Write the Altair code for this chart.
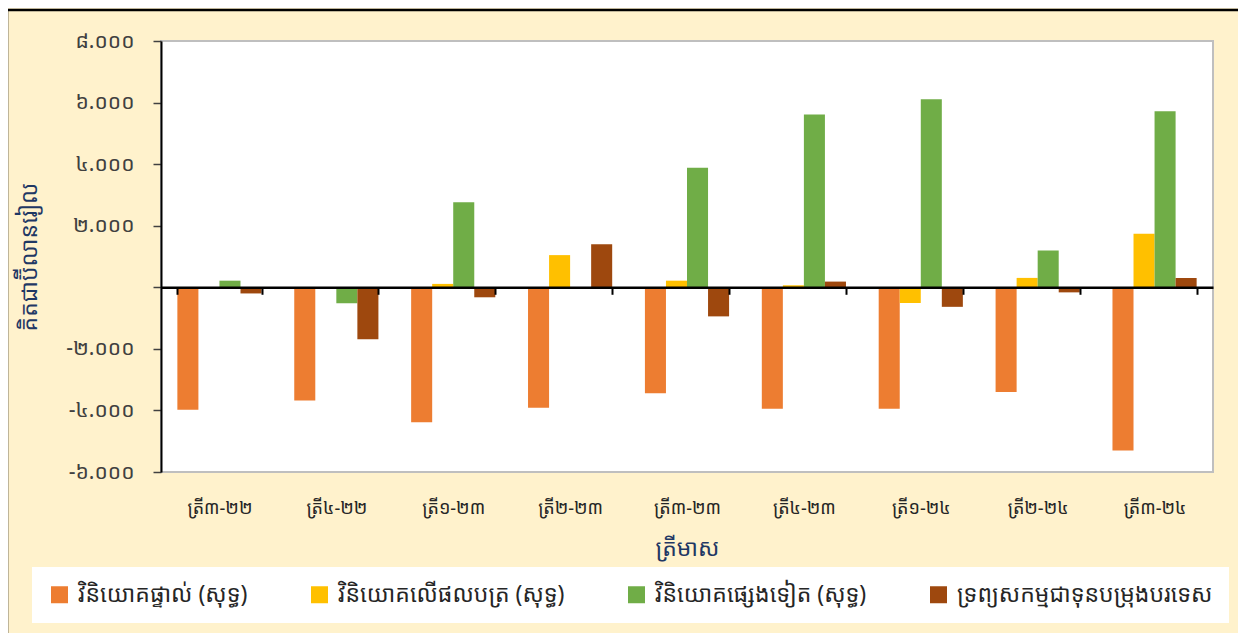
import altair as alt
import pandas as pd

quarters = ["ត្រី៣-២២", "ត្រី៤-២២", "ត្រី១-២៣", "ត្រី២-២៣", "ត្រី៣-២៣",
            "ត្រី៤-២៣", "ត្រី១-២៤", "ត្រី២-២៤", "ត្រី៣-២៤"]
series = ["វិនិយោគផ្ទាល់ (សុទ្ធ)", "វិនិយោគលើផលបត្រ (សុទ្ធ)",
          "វិនិយោគផ្សេងទៀត (សុទ្ធ)", "ទ្រព្យសកម្មជាទុនបម្រុងបរទេស"]
colors = ["#ED7D31", "#FFC000", "#70AD47", "#9E480E"]

direct_inv = [-3980, -3675, -4380, -3915, -3440, -3945, -3945, -3405, -5305]
portfolio_inv = [0, 0, 110, 1045, 215, 65, -510, 305, 1740]
other_inv = [215, -520, 2760, 0, 3880, 5610, 6105, 1195, 5715]
reserve_assets = [-200, -1690, -325, 1400, -945, 185, -635, -165, 305]

y_ticks = [-6000, -4000, -2000, 0, 2000, 4000, 6000, 8000]
y_tick_labels = ["-៦.០០០", "-៤.០០០", "-២.០០០", "", "២.០០០", "៤.០០០", "៦.០០០", "៨.០០០"]

y_title = "គិតជាប៊ីលានរៀល"
x_title = "ត្រីមាស"

rows = []
for s, vals in zip(series, [direct_inv, portfolio_inv, other_inv, reserve_assets]):
    for q, v in zip(quarters, vals):
        rows.append({"quarter": q, "series": s, "value": v})
df = pd.DataFrame(rows)

W, H = 1052, 431
Y_MIN, Y_MAX = -6000, 8000
zero_offset = -H * (0 - Y_MIN) / (Y_MAX - Y_MIN)

label_expr = " : ".join(
    f"datum.value == {v} ? '{l}'" for v, l in zip(y_ticks, y_tick_labels)
) + " : ''"

FONT = "Noto Sans Khmer, Khmer OS, Noto Sans, DejaVu Sans, sans-serif"

bars = alt.Chart(df).mark_bar().encode(
    x=alt.X(
        "quarter:N", sort=quarters,
        scale=alt.Scale(paddingInner=0.28, paddingOuter=0.14),
        axis=alt.Axis(
            orient="bottom", offset=zero_offset, grid=False,
            domain=True, domainColor="black", domainWidth=2.5,
            ticks=True, tickBand="extent", tickSize=7, tickWidth=2, tickColor="black",
            labelAngle=0, labelFontSize=18, labelColor="#262626", labelFont=FONT,
            labelPadding=-zero_offset + 20,
            title=x_title, titleColor="#1F3864", titleFontSize=23,
            titleFontWeight="normal", titleFont=FONT,
            titleY=261, titleBaseline="middle", zindex=1,
        ),
    ),
    xOffset=alt.XOffset("series:N", sort=series,
                        scale=alt.Scale(paddingInner=0, paddingOuter=0)),
    y=alt.Y(
        "value:Q",
        scale=alt.Scale(domain=[Y_MIN, Y_MAX], nice=False, zero=False),
        axis=alt.Axis(
            values=y_ticks, labelExpr=label_expr, grid=False,
            domain=True, domainColor="black", domainWidth=2,
            ticks=True, tickSize=8, tickWidth=1.5, tickColor="#404040",
            labelFontSize=21, labelColor="#404040", labelFont=FONT, labelPadding=19,
            title=y_title, titleColor="#1F3864", titleFontSize=23,
            titleFontWeight="normal", titleFont=FONT,
            titleX=-132, titleY=H / 2, titleAngle=270,
            titleAlign="center", titleBaseline="middle", zindex=1,
        ),
    ),
    color=alt.Color(
        "series:N", sort=series,
        scale=alt.Scale(domain=series, range=colors),
        legend=alt.Legend(
            orient="none", legendX=-129, legendY=526, direction="horizontal",
            title=None, symbolType="square", symbolSize=289, symbolStrokeWidth=0,
            labelFontSize=23, labelColor="#262626", labelFont=FONT, labelLimit=0,
            labelOffset=7, fillColor="white", padding=16, columnPadding=60,
        ),
    ),
)

frame = alt.Chart(pd.DataFrame({"f": [0]})).mark_rect(
    filled=False, stroke="black", strokeWidth=2.5
).encode(
    x=alt.value(-154), x2=alt.value(W + 28),
    y=alt.value(-31), y2=alt.value(H + 166),
)

chart = alt.layer(bars, frame).properties(
    width=W, height=H,
    autosize=alt.AutoSizeParams(type="none"),
    padding={"left": 153, "top": 33, "right": 25, "bottom": 161},
    background="#FFF2CC",
).configure_view(
    fill="white", stroke="#BFBFBF", strokeWidth=2
)

chart.save("out.html", embed_options={"renderer": "svg", "actions": False})
